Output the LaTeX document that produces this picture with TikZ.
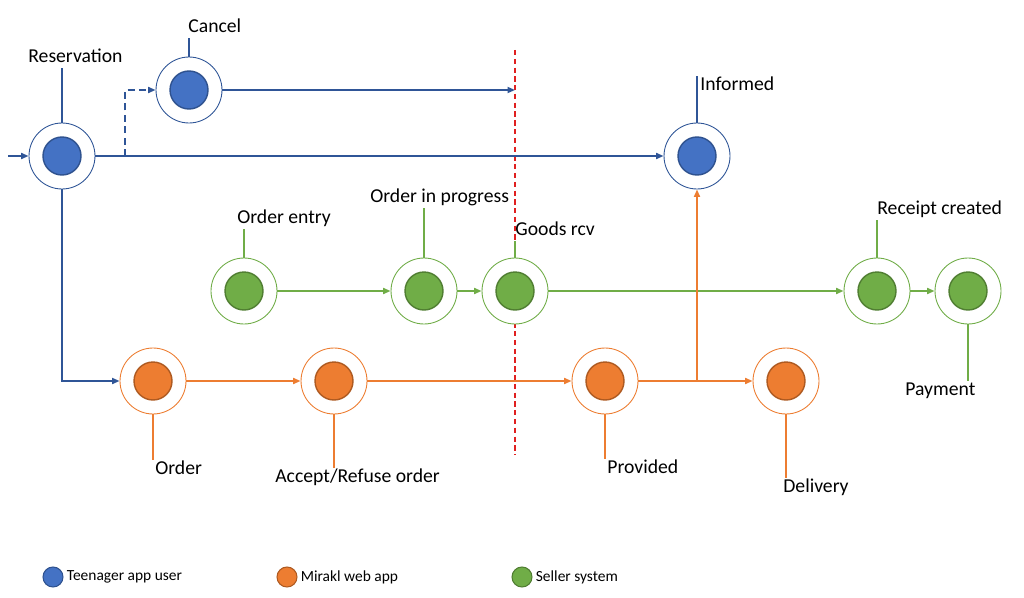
\documentclass[tikz,border=0pt]{standalone}
\usepackage{fontspec}
\setmainfont{Carlito}
\usetikzlibrary{positioning,arrows.meta,calc}
\definecolor{cUser} {HTML}{4472C4}
\definecolor{cUserD}{HTML}{2F528F}
\definecolor{cUserL}{HTML}{2F5597}
\definecolor{cWeb}  {HTML}{ED7D31}
\definecolor{cWebD} {HTML}{AE5A21}
\definecolor{cSell} {HTML}{70AD47}
\definecolor{cSellD}{HTML}{507E32}
\definecolor{cCut}  {HTML}{E02020}
\tikzset{
  >={Triangle[length=1.5mm,width=1.2mm]},
  sev/.style 2 args={circle,draw=#1,fill=white,line width=0.5pt,minimum size=1.32cm,
    inner sep=0pt,
    path picture={\draw[fill=#1,draw=#2,line width=0.8pt]
      (path picture bounding box.center) circle (0.38cm);}},
  suser/.style={sev={cUser}{cUserD},draw=cUserL},
  sweb/.style ={sev={cWeb}{cWebD}},
  ssell/.style={sev={cSell}{cSellD}},
  slbl/.style ={font=\fontsize{11.2}{13}\selectfont,inner sep=0pt,
                text height=8pt,text depth=2.5pt,anchor=west},
  skey/.style ={circle,minimum size=0.4cm,inner sep=0pt,line width=0.6pt},
  sktx/.style ={font=\fontsize{8.8}{10}\selectfont,inner sep=0pt},
  sar/.style  ={->,line width=1pt},
  sst/.style  ={line width=1pt},
}
\begin{document}
\begin{tikzpicture}[x=0.02cm,y=-0.02cm]
    \fill[white] (0,0) rectangle (1024,598);
    \useasboundingbox (0,0) rectangle (1024,598);
    % cut line
    \coordinate (cutT) at (515,50);
    \coordinate (cutB) at (515,455);
    \draw[cCut,line width=0.8pt,dash pattern=on 3pt off 2pt] (cutT)--(cutB);
    % events
    \node[suser] (res) at (62,156) {};
    \node[suser] (can) at (189,90) {};
    \node[suser] (inf) at (697,156) {};
    \node[ssell] (ent) at (244,291) {};
    \node[ssell] (prg) at (424,291) {};
    \node[ssell] (rcv) at (515,291) {};
    \node[ssell] (rec) at (877,291) {};
    \node[ssell] (pay) at (968,291) {};
    \node[sweb] (ord) at (153,381) {};
    \node[sweb] (acc) at (334,381) {};
    \node[sweb] (prv) at (605,381) {};
    \node[sweb] (dlv) at (786,381) {};
    % labels
    \node[slbl] (lres) at (28,58) {Reservation};
    \node[slbl] (lcan) at (188,28) {Cancel};
    \node[slbl] (linf) at (700,86) {Informed};
    \node[slbl] (lent) at (237,219) {Order entry};
    \node[slbl] (lprg) at (370,198) {Order in progress};
    \node[slbl] (lrcv) at (515,231) {Goods rcv};
    \node[slbl] (lrec) at (877,210) {Receipt created};
    \node[slbl] (lpay) at (905,391) {Payment};
    \node[slbl] (lord) at (155,470) {Order};
    \node[slbl] (lacc) at (275,478) {Accept/Refuse order};
    \node[slbl] (lprv) at (607,469) {Provided};
    \node[slbl] (ldlv) at (783,488) {Delivery};
    % stems
    \draw[sst,cUserL] (res.north)--(res.north |- lres.south);
    \draw[sst,cUserL] (can.north)--(can.north |- lcan.south);
    \draw[sst,cUserL] (inf.north)--(inf.north |- linf.north);
    \draw[sst,cSell] (ent.north)--(ent.north |- lent.south);
    \draw[sst,cSell] (prg.north)--(prg.north |- lprg.south);
    \draw[sst,cSell] (rcv.north)--(rcv.north |- lrcv.south);
    \draw[sst,cSell] (rec.north)--(rec.north |- lrec.south);
    \draw[sst,cSell] (pay.south)--(pay.south |- lpay.north);
    \draw[sst,cWeb] (ord.south)--(ord.south |- lord.north);
    \draw[sst,cWeb] (acc.south)--(acc.south |- lacc.north);
    \draw[sst,cWeb] (prv.south)--(prv.south |- lprv.north);
    \draw[sst,cWeb] (dlv.south)--(dlv.south |- ldlv.north);
    % user flow
    \coordinate (in) at (8,156);
    \coordinate (fork) at (125,156);
    \draw[sar,cUserL] (in)--(res.west);
    \draw[sar,cUserL] (res.east)--(inf.west);
    \draw[sar,cUserL,dash pattern=on 4pt off 2.5pt] (fork)|-(can.west);
    \draw[sar,cUserL] (can.east)--(can.east -| cutT);
    \draw[sar,cUserL] (res.south)|-(ord.west);
    % seller flow
    \draw[sar,cSell] (ent)--(prg);
    \draw[sar,cSell] (prg)--(rcv);
    \draw[sar,cSell] (rcv)--(rec);
    \draw[sar,cSell] (rec)--(pay);
    % web flow
    \draw[sar,cWeb] (ord)--(acc);
    \draw[sar,cWeb] (acc)--(prv);
    \draw[sar,cWeb] (prv)--(dlv);
    \draw[sar,cWeb] (inf |- prv)--(inf.south);
    % legend
    \node[skey,fill=cUser,draw=cUserD] (kuser) at (53,577) {};
    \node[sktx,right=0.6mm of kuser] (tuser) {Teenager app user};
    \node[skey,fill=cWeb,draw=cWebD] (kweb) at (287,577) {};
    \node[sktx,right=0.6mm of kweb] (tweb) {Mirakl web app};
    \node[skey,fill=cSell,draw=cSellD] (ksell) at (522,577) {};
    \node[sktx,right=0.6mm of ksell] (tsell) {Seller system};
  \end{tikzpicture}
\end{document}
